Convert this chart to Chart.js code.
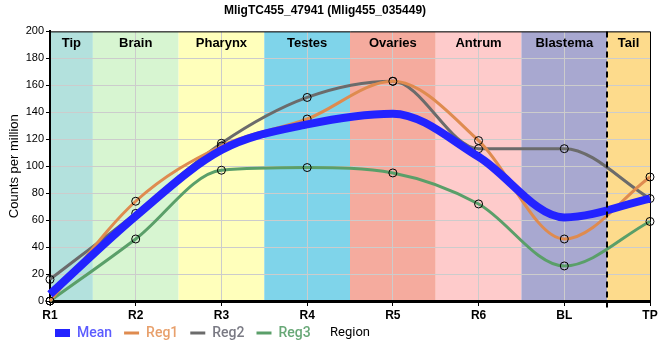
<!DOCTYPE html>
<html>
<head>
<meta charset="utf-8">
<script src="https://cdn.jsdelivr.net/npm/chart.js@4.4.1/dist/chart.umd.min.js"></script>
<style>
html, body { margin: 0; padding: 0; background: #fff; }
#contenedor { width: 660px; height: 360px; }
</style>
</head>
<body>
<div id="contenedor"><canvas id="grafica"></canvas></div>
<script>
// datos
const regiones = ['R1', 'R2', 'R3', 'R4', 'R5', 'R6', 'BL', 'TP'];
const mean = [5, 63, 112, 131, 139, 107, 62, 76];
const reg1 = [0, 74, 115, 135, 163, 119, 46, 92];
const reg2 = [16, 65, 117, 151, 163, 113, 113, 76];
const reg3 = [0, 46, 97, 99, 95, 72, 26, 59];

// tejidos (bandas de fondo), limites en unidades de categoria
const tejidos = ['Tip', 'Brain', 'Pharynx', 'Testes', 'Ovaries', 'Antrum', 'Blastema', 'Tail'];
const tejidoInicio = [0, 0.5, 1.5, 2.5, 3.5, 4.5, 5.5, 6.5];
const tejidoFin = [0.5, 1.5, 2.5, 3.5, 4.5, 5.5, 6.5, 7];
const limiteCola = 6.5;

const tejidoColores = ['#b3e1dd', '#d7f5d1', '#ffffbb', '#7fd4ea', '#f5ab9e', '#fecbcb', '#a8a8d0', '#fddb8c'];
const lineaColores = ['#2323ff', '#df8b4f', '#6b6b6b', '#5a9f69'];
const textoColores = ['#5c5cff', '#e8a06c', '#7a7a84', '#68a877'];

const fondoRegiones = {
    id: 'fondoRegiones',
    beforeDraw(chart) {
        const {ctx, chartArea, scales: {x}} = chart;
        ctx.save();
        tejidos.forEach((t, i) => {
            const x0 = x.getPixelForValue(tejidoInicio[i]);
            const x1 = x.getPixelForValue(tejidoFin[i]);
            ctx.fillStyle = tejidoColores[i];
            ctx.fillRect(x0, chartArea.top, x1 - x0, chartArea.bottom - chartArea.top);
        });
        ctx.restore();
    },
    beforeDatasetsDraw(chart) {
        const {ctx, chartArea, scales: {x}} = chart;
        ctx.save();
        ctx.fillStyle = '#000';
        ctx.font = 'bold 13px "Liberation Sans", Arial, sans-serif';
        ctx.textAlign = 'center';
        ctx.textBaseline = 'middle';
        tejidos.forEach((t, i) => {
            const xc = (x.getPixelForValue(tejidoInicio[i]) + x.getPixelForValue(tejidoFin[i])) / 2;
            ctx.fillText(t, xc, chartArea.top + 12);
        });
        // marco superior y derecho
        ctx.strokeStyle = '#000';
        ctx.lineWidth = 1;
        ctx.beginPath();
        ctx.moveTo(chartArea.left, chartArea.top + 0.5);
        ctx.lineTo(chartArea.right + 0.5, chartArea.top + 0.5);
        ctx.lineTo(chartArea.right + 0.5, chartArea.bottom);
        ctx.stroke();
        ctx.restore();
    },
    afterDatasetsDraw(chart) {
        const {ctx, chartArea, scales: {x}} = chart;
        const xl = Math.round(x.getPixelForValue(limiteCola));
        ctx.save();
        ctx.strokeStyle = '#000';
        ctx.lineWidth = 2;
        ctx.setLineDash([6, 4]);
        ctx.beginPath();
        ctx.moveTo(xl, chartArea.top);
        ctx.lineTo(xl, chartArea.bottom + 7);
        ctx.stroke();
        ctx.restore();
    },
    afterDraw(chart) {
        const {ctx, chartArea, legend} = chart;
        const item = legend.legendHitBoxes[0];
        ctx.save();
        ctx.fillStyle = '#000';
        ctx.font = '13px Roboto, sans-serif';
        ctx.textAlign = 'center';
        ctx.textBaseline = 'middle';
        ctx.fillText('Region', (chartArea.left + chartArea.right) / 2, item.top + item.height / 2);
        ctx.restore();
    }
};

// la leyenda empieza bajo el eje y, y sube hasta la linea del titulo del eje x
const legendaIzquierda = {
    id: 'legendaIzquierda',
    afterLayout(chart) {
        chart.legend.left = chart.chartArea.left - 7;
        chart.legend.top = chart.legend.top - 9;
    }
};

function serie(label, data, i, ancho, puntos) {
    return {
        label: label,
        data: data,
        borderColor: lineaColores[i],
        backgroundColor: lineaColores[i],
        borderWidth: ancho,
        cubicInterpolationMode: 'monotone',
        pointRadius: puntos ? 4 : 0,
        pointBorderColor: '#000',
        pointBorderWidth: 1,
        pointBackgroundColor: 'rgba(0,0,0,0)',
        pointHoverRadius: 0,
        clip: false,
        fill: false
    };
}

new Chart('grafica', {
    type: 'line',
    data: {
        labels: regiones,
        datasets: [
            serie('Mean', mean, 0, 8, false),
            serie('Reg1', reg1, 1, 3, true),
            serie('Reg2', reg2, 2, 3, true),
            serie('Reg3', reg3, 3, 3, true)
        ]
    },
    plugins: [fondoRegiones, legendaIzquierda],
    options: {
        responsive: true,
        maintainAspectRatio: false,
        animation: false,
        layout: { padding: { left: 0, right: 10, top: 0, bottom: 1 } },
        plugins: {
            title: {
                display: true,
                text: 'MligTC455_47941 (Mlig455_035449)',
                color: '#000',
                font: { family: '"Liberation Sans", Arial, sans-serif', size: 12, weight: 'bold' },
                padding: { top: 3, bottom: 14 }
            },
            legend: {
                display: true,
                position: 'bottom',
                align: 'start',
                labels: {
                    usePointStyle: true,
                    pointStyleWidth: 15,
                    padding: 12,
                    font: { family: 'Roboto, sans-serif', size: 14, weight: '500' },
                    generateLabels(chart) {
                        return chart.data.datasets.map((ds, i) => ({
                            text: ds.label,
                            fontColor: textoColores[i],
                            strokeStyle: ds.borderColor,
                            fillStyle: ds.borderColor,
                            lineWidth: ds.borderWidth,
                            lineCap: 'butt',
                            pointStyle: 'line',
                            hidden: false,
                            datasetIndex: i
                        }));
                    }
                }
            },
            tooltip: { enabled: false }
        },
        scales: {
            x: {
                offset: false,
                grid: { color: '#cccccc', tickColor: '#000', tickLength: 5, offset: false },
                border: { color: '#000', width: 3 },
                ticks: {
                    color: '#000',
                    padding: 2,
                    maxRotation: 0,
                    font: { family: '"Liberation Sans", Arial, sans-serif', size: 12, weight: 'bold' }
                },
                afterFit(scale) { scale.height = 22; }
            },
            y: {
                min: 0,
                max: 200,
                ticks: {
                    stepSize: 20,
                    color: '#000',
                    padding: 2,
                    font: { family: '"Liberation Sans", Arial, sans-serif', size: 11 }
                },
                grid: { color: '#cccccc', tickColor: '#000', tickLength: 4 },
                border: { color: '#000', width: 2 },
                title: {
                    display: true,
                    text: 'Counts per million',
                    color: '#000',
                    font: { family: '"Liberation Sans", Arial, sans-serif', size: 13 },
                    padding: { top: 7, bottom: 0 }
                },
                afterFit(scale) { scale.width = 50; }
            }
        }
    }
});
</script>
</body>
</html>
